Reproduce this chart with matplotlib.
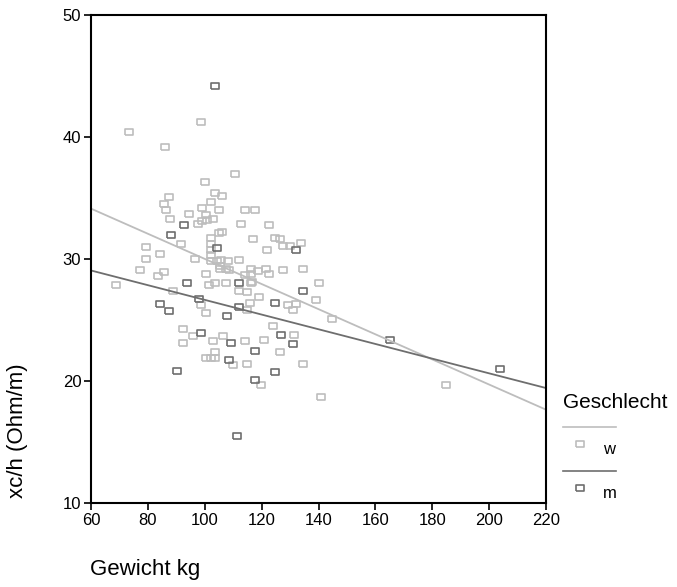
import matplotlib
matplotlib.use('Agg')
import matplotlib.pyplot as plt
from matplotlib.lines import Line2D
import numpy as np

plt.rcParams['font.family'] = ['Liberation Sans', 'DejaVu Sans']

# Gewicht (kg) und xc/h (Ohm/m), Frauen
w_gewicht = [73.2, 98.6, 85.9, 110.7, 100.0, 103.5, 87.3, 105.9, 102.2, 85.5,
             86.5, 99.0, 105.1, 114.1, 117.8, 87.9, 94.3, 100.6, 99.0, 100.8,
             102.9, 97.8, 112.8, 122.5, 106.1, 105.1, 117.0, 102.2, 124.6, 126.3,
             134.0, 127.6, 130.0, 121.9, 102.2, 102.2, 102.2, 102.2, 91.7, 79.5,
             84.4, 79.5, 96.6, 105.7, 108.0, 105.3, 107.3, 112.1, 100.6, 101.4,
             103.7, 107.3, 116.4, 121.4, 122.5, 118.7, 116.1, 114.3, 127.6, 134.6,
             140.2, 116.3, 112.0, 114.9, 119.0, 139.0, 129.3, 132.0, 131.1, 115.8,
             114.9, 100.6, 98.6, 144.7, 124.1, 131.4, 120.7, 114.1, 106.4, 102.9,
             126.3, 103.5, 100.6, 102.2, 103.7, 110.0, 114.9, 134.6, 119.7, 141.0,
             184.9, 77.4, 85.5, 83.7, 68.8, 88.7, 92.3, 95.9, 92.3, 104.3,
             108.4, 105.5, 116.7]
w_xch = [40.4, 41.2, 39.2, 37.0, 36.3, 35.4, 35.1, 35.2, 34.7, 34.5,
         34.0, 34.2, 34.0, 34.0, 34.0, 33.3, 33.7, 33.6, 33.1, 33.2,
         33.3, 32.9, 32.9, 32.8, 32.2, 32.1, 31.6, 31.7, 31.7, 31.6,
         31.3, 31.1, 31.1, 30.7, 31.2, 30.7, 30.3, 29.8, 31.2, 31.0,
         30.4, 30.0, 30.0, 29.9, 29.8, 29.4, 29.2, 29.9, 28.8, 27.9,
         28.0, 28.0, 29.2, 29.2, 28.8, 29.0, 28.8, 28.7, 29.1, 29.2,
         28.0, 28.0, 27.4, 27.3, 26.9, 26.6, 26.2, 26.3, 25.8, 26.4,
         25.8, 25.6, 26.2, 25.1, 24.5, 23.8, 23.4, 23.3, 23.7, 23.3,
         22.4, 22.4, 21.9, 21.9, 21.9, 21.3, 21.4, 21.4, 19.7, 18.7,
         19.7, 29.1, 28.9, 28.6, 27.9, 27.4, 24.3, 23.7, 23.1, 29.8,
         29.1, 29.2, 28.1]

# Männer
m_gewicht = [103.5, 92.8, 88.1, 104.2, 132.0, 93.6, 112.0, 98.0, 84.4, 87.4,
             134.6, 124.8, 112.0, 107.8, 98.7, 126.9, 131.2, 109.1, 117.7, 108.5,
             90.1, 124.8, 117.7, 111.4, 165.1, 203.9]
m_xch = [44.2, 32.8, 32.0, 30.9, 30.7, 28.0, 28.0, 26.7, 26.3, 25.7,
         27.4, 26.4, 26.1, 25.3, 23.9, 23.8, 23.0, 23.1, 22.5, 21.7,
         20.8, 20.7, 20.1, 15.5, 23.4, 21.0]

col_w = '#bdbdbd'
col_m = '#6e6e6e'
rect = [(-1.3, -1), (1.3, -1), (1.3, 1), (-1.3, 1), (-1.3, -1)]

fig = plt.figure(figsize=(6.77, 5.87), dpi=100)
ax = fig.add_axes([91 / 677, 1 - 503 / 587, 455 / 677, 488 / 587])

ax.plot(w_gewicht, w_xch, linestyle='none', marker=rect, markersize=6,
        markerfacecolor='none', markeredgecolor=col_w, markeredgewidth=1.2)
ax.plot(m_gewicht, m_xch, linestyle='none', marker=rect, markersize=6,
        markerfacecolor='none', markeredgecolor=col_m, markeredgewidth=1.2)

# lineare Anpassung je Gruppe
xs = np.array([60, 220])
for gx, gy, c in [(w_gewicht, w_xch, col_w), (m_gewicht, m_xch, col_m)]:
    k, d = np.polyfit(gx, gy, 1)
    ax.plot(xs, k * xs + d, color=c, linewidth=1.3)

ax.set_xlim(60, 220)
ax.set_ylim(10, 50)
ax.set_xticks(range(60, 221, 20))
ax.set_yticks(range(10, 51, 10))
ax.tick_params(direction='out', length=5, width=1.2, labelsize=12, pad=2)
for s in ax.spines.values():
    s.set_linewidth(1.5)

fig.text(90 / 677, 1 - 570 / 587, 'Gewicht kg', fontsize=16, ha='left', va='center')
fig.text(18 / 677, 1 - 431 / 587, 'xc/h (Ohm/m)', fontsize=16, rotation=90,
         ha='center', va='center')

# Legende
fig.text(563 / 677, 1 - 403 / 587, 'Geschlecht', fontsize=15, ha='left', va='center')
for yl, c, lab in [(427, col_w, 'w'), (471, col_m, 'm')]:
    fig.add_artist(Line2D([563 / 677, 616 / 677], [1 - yl / 587] * 2,
                          color=c, linewidth=1.2, transform=fig.transFigure))
    fig.add_artist(Line2D([580 / 677], [1 - (yl + 17) / 587], linestyle='none',
                          marker=rect, markersize=5.5, markerfacecolor='none',
                          markeredgecolor=c, markeredgewidth=1.2,
                          transform=fig.transFigure))
    fig.text(603 / 677, 1 - (yl + 23) / 587, lab, fontsize=12, ha='left', va='center')

fig.savefig('out.png', dpi=100)
